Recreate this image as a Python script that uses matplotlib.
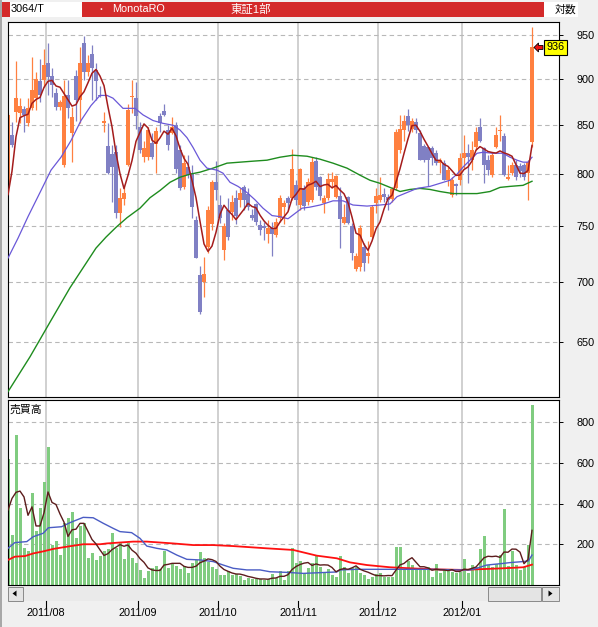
#!/usr/bin/env python
# coding: utf-8
# 3064/T MonotaRO - daily candles with moving averages and traded volume
# (2011/07/15 - 2012/01/30, log price scale)

import warnings
warnings.simplefilter("ignore")
import numpy as np
import pandas as pd
import matplotlib
matplotlib.use("Agg")
import matplotlib.pyplot as plt
import matplotlib.transforms as mtransforms
from matplotlib import font_manager
from matplotlib.patches import Rectangle, Polygon
from matplotlib.lines import Line2D
from matplotlib.ticker import NullLocator


# %% data (one entry per trading day)

opens = [786, 840, 864, 863, 867, 852, 868, 879, 898, 899,
         918, 904, 885, 869, 809, 883, 842, 904, 877, 941,
         908, 929, 910, 883, 852, 828, 820, 822, 762, 776,
         809, 880, 879, 848, 817, 817, 832, 830, 860, 865,
         845, 842, 850, 824, 787, 807, 801, 756, 706, 700,
         731, 752, 792, 770, 728, 765, 763, 777, 775, 787,
         781, 761, 771, 751, 750, 743, 748, 742, 758, 768,
         777, 777, 789, 770, 786, 773, 775, 813, 797, 772,
         777, 792, 778, 779, 753, 778, 750, 711, 713, 731,
         723, 740, 772, 775, 781, 778, 776, 786, 824, 845,
         860, 846, 853, 842, 828, 827, 826, 821, 811, 811,
         794, 780, 790, 794, 816, 821, 814, 827, 848, 826,
         814, 799, 827, 844, 839, 795, 801, 809, 808, 809,
         801, 833]

highs = [863, 853, 921, 879, 871, 879, 925, 908, 923, 934,
         941, 913, 890, 877, 899, 899, 869, 910, 937, 949,
         927, 939, 918, 892, 864, 852, 829, 829, 786, 788,
         873, 899, 897, 853, 834, 848, 842, 848, 863, 873,
         850, 859, 853, 829, 819, 819, 809, 760, 714, 722,
         769, 794, 813, 780, 753, 777, 780, 784, 786, 789,
         786, 766, 772, 756, 754, 756, 754, 758, 780, 775,
         779, 825, 794, 806, 789, 796, 817, 817, 798, 780,
         801, 802, 799, 787, 771, 779, 753, 726, 751, 735,
         736, 770, 786, 797, 786, 781, 787, 846, 861, 861,
         867, 858, 858, 845, 830, 827, 828, 824, 816, 814,
         807, 797, 791, 821, 840, 830, 834, 848, 858, 827,
         819, 822, 848, 861, 842, 809, 812, 814, 811, 811,
         814, 960]

lows = [782, 827, 853, 852, 843, 849, 866, 866, 875, 891,
        882, 880, 866, 866, 807, 858, 812, 855, 852, 899,
        904, 877, 877, 880, 843, 800, 773, 758, 749, 770,
        808, 863, 846, 821, 812, 814, 815, 801, 843, 860,
        824, 841, 801, 784, 785, 796, 758, 721, 673, 687,
        726, 747, 775, 753, 719, 737, 756, 752, 768, 765,
        765, 756, 751, 742, 737, 735, 723, 740, 754, 752,
        765, 775, 770, 765, 765, 770, 773, 784, 775, 762,
        775, 786, 777, 730, 752, 752, 719, 710, 710, 710,
        717, 739, 762, 773, 773, 765, 773, 784, 821, 834,
        844, 843, 842, 814, 812, 788, 809, 809, 801, 794,
        788, 778, 780, 789, 806, 791, 804, 824, 833, 791,
        799, 797, 826, 834, 798, 794, 799, 794, 797, 794,
        775, 827]

closes = [861, 829, 879, 871, 861, 868, 888, 900, 882, 916,
          902, 893, 869, 875, 881, 868, 859, 877, 918, 908,
          918, 912, 898, 881, 855, 801, 807, 762, 777, 782,
          866, 881, 860, 824, 826, 845, 817, 844, 852, 861,
          829, 848, 805, 786, 811, 799, 768, 721, 674, 707,
          765, 792, 784, 758, 750, 740, 773, 760, 782, 775,
          768, 758, 754, 747, 748, 748, 743, 754, 777, 772,
          772, 805, 775, 805, 769, 792, 812, 787, 779, 777,
          795, 795, 798, 757, 759, 753, 726, 723, 748, 717,
          726, 768, 779, 780, 778, 775, 785, 843, 846, 855,
          850, 854, 845, 814, 814, 814, 816, 811, 814, 794,
          804, 794, 788, 816, 821, 817, 824, 843, 834, 809,
          804, 819, 840, 845, 799, 797, 809, 797, 803, 797,
          812, 936]

volumes = [618, 245, 736, 379, 183, 167, 453, 267, 379, 505,
           679, 196, 216, 147, 304, 329, 358, 232, 290, 304,
           132, 159, 123, 144, 167, 177, 257, 183, 206, 128,
           206, 132, 108, 74, 36, 69, 83, 93, 78, 167,
           85, 108, 93, 79, 93, 59, 108, 123, 164, 132,
           113, 90, 79, 49, 49, 69, 49, 54, 46, 25,
           36, 29, 29, 29, 25, 29, 54, 36, 69, 25,
           69, 180, 110, 118, 59, 85, 108, 147, 90, 65,
           79, 49, 41, 144, 90, 61, 85, 90, 61, 49,
           29, 41, 52, 61, 41, 38, 38, 188, 188, 77,
           119, 98, 77, 77, 77, 90, 41, 103, 61, 74,
           74, 65, 57, 65, 128, 61, 98, 90, 177, 242,
           98, 90, 101, 147, 373, 93, 168, 98, 74, 90,
           196, 883]

# first 4 points of the 5-day averages (they use days before the window)
ma5_head = [780, 803, 838, 858]
vol_ma5_head = [368, 425, 455, 461]

# 25-day price average, read as (day index, price)
ma25_k = [0, 2.5, 5, 8.25, 10.75, 13.25, 15.75, 18.25, 20.75, 23,
          24.75, 26.25, 28.75, 31.75, 33.75, 36.25, 38.75, 41.25, 43, 44.75,
          46.25, 48, 49.75, 52.25, 53.75, 55.5, 57.5, 59.75, 61.75, 63.75,
          66, 68, 70, 71.75, 73.5, 75.5, 78, 81.25, 83.75, 86.25,
          89.75, 93, 95.5, 97.25, 99.75, 102.25, 105.5, 108, 110.5, 112.25,
          113.75, 115.5, 117.25, 118.75, 121.25, 123.75, 125.5, 127.25, 128.75, 130,
          131]
ma25_v = [721, 739, 759, 784, 804, 817, 834, 855, 871, 882,
          882, 879, 868, 868, 861, 855, 852, 850, 845, 837,
          827, 814, 806, 804, 801, 792, 788, 782, 775, 767,
          760, 759, 757, 762, 767, 768, 770, 774, 774, 770,
          769, 770, 771, 778, 782, 786, 788, 791, 794, 800,
          807, 814, 821, 822, 821, 821, 817, 814, 812, 812,
          817]

# 75-day price average
ma75_k = [0, 5.5, 10.5, 15.5, 22, 24.5, 27, 29.75, 33, 35.5,
          38, 40.5, 43, 45.5, 48, 51.25, 54.75, 58, 61.25, 64.75,
          68, 71.25, 74.75, 78, 81.25, 84.75, 88, 90.5, 93, 95.5,
          98, 100.5, 103, 105.5, 108, 111.25, 113.75, 117.25, 120.5, 123,
          125.5, 128.75, 131]
ma75_v = [611, 638, 666, 695, 730, 740, 749, 758, 767, 777,
          784, 792, 797, 800, 802, 806, 811, 812, 813, 814,
          817, 819, 818, 815, 811, 806, 799, 794, 791, 787,
          783, 785, 786, 785, 783, 781, 781, 781, 783, 787,
          788, 789, 793]

# 25-day volume average
vol_ma25_k = [0, 1.7, 4.7, 6.3, 8.8, 10.1, 13.4, 15.5, 18.8, 21.3,
              23.8, 26.3, 28, 30.9, 33, 34.7, 37.2, 39.7, 42.2, 44.7,
              48, 51.3, 53.8, 56.3, 59.7, 63, 65.5, 69.7, 73.8, 82.2,
              83, 87.2, 97.2, 106.3, 112.2, 115.5, 117.2, 119.7, 123.8, 125.5,
              128.8, 130.1, 131]
vol_ma25_v = [180, 208, 213, 237, 254, 281, 286, 306, 332, 330,
              303, 278, 262, 257, 229, 191, 180, 172, 147, 126,
              123, 115, 98, 82, 74, 74, 65, 62, 57, 64,
              74, 77, 77, 77, 74, 74, 82, 98, 106, 110,
              115, 118, 147]

# 75-day volume average
vol_ma75_k = [0, 1.7, 4.25, 6.3, 8.8, 11.3, 14.7, 18.8, 23, 24.7,
              31.3, 34.7, 41.3, 46.3, 51.3, 56.3, 64.7, 71.3, 77.2, 82.2,
              85.5, 89.7, 95.5, 100.5, 106.3, 113.8, 117.2, 123.8, 128.8, 130.5,
              131]
vol_ma75_v = [123, 139, 142, 155, 165, 177, 188, 200, 200, 204,
              213, 213, 204, 196, 196, 191, 180, 172, 144, 131,
              111, 98, 87, 82, 77, 74, 77, 82, 87, 97,
              100]

month_start = [10, 33, 53, 73, 93, 114]          # first trading day of month
month_labels = ['2011/08', '2011/09', '2011/10', '2011/11', '2011/12', '2012/01']
price_ticks = [650, 700, 750, 800, 850, 900, 950]
volume_ticks = [200, 400, 600, 800]


# %% look

UP = '#ff8040'
DOWN = '#8080c4'
MA5_C = '#a41c1c'
MA25_C = '#6a58d8'
MA75_C = '#1e8c1e'
VOL_C = '#80cc80'
VMA5_C = '#5c1c1c'
VMA25_C = '#4a5cc4'
VMA75_C = '#ff1010'
GRID_C = '#b8b8b8'
VGRID_C = '#c4c4c4'
BG = '#f0f0f0'
HEAD_RED = '#d42a2a'

installed = {f.name for f in font_manager.fontManager.ttflist}
NUM = next(f for f in ['Liberation Sans Narrow', 'Liberation Sans', 'DejaVu Sans']
           if f in installed)
NUM_SIZE = 9.5 if NUM == 'Liberation Sans Narrow' else 7.8
plt.rcParams['font.family'] = [NUM, 'Noto Sans CJK JP', 'DejaVu Sans']

W, H = 598, 627


def fx(x):
    return x / W


def fy(y):
    return 1 - y / H


fig = plt.figure(figsize=(W / 100, H / 100), dpi=100)
fig.patch.set_facecolor(BG)


def rect(x0, y0, x1, y1, **kw):
    fig.add_artist(Rectangle((fx(x0), fy(y1)), (x1 - x0) / W, (y1 - y0) / H,
                             transform=fig.transFigure, **kw))


def poly(pts, **kw):
    fig.add_artist(Polygon([(fx(a), fy(b)) for a, b in pts], closed=True,
                           transform=fig.transFigure, **kw))


# window edge
rect(0, 0, 2, H, fc='#a8a8a8', ec='none')

# header bar
rect(2, 2, 9.5, 17, fc=HEAD_RED, ec='none')
rect(9.5, 2, 82, 17, fc='white', ec='none')
rect(82, 2, 543.5, 17, fc=HEAD_RED, ec='none')
rect(543.5, 2, 578, 17, fc='white', ec='none')
fig.text(fx(11), fy(9.5), '3064/T', ha='left', va='center', fontsize=NUM_SIZE, color='black')
fig.text(fx(96), fy(9.5), '・', ha='left', va='center', fontsize=6.5, color='white')
fig.text(fx(112), fy(9.5), 'MonotaRO', ha='left', va='center', fontsize=NUM_SIZE, color='white')
fig.text(fx(231), fy(9.5), '東証1部', ha='left', va='center', fontsize=8.2, color='white')
fig.text(fx(555), fy(9.5), '対数', ha='left', va='center', fontsize=7.8, color='black')

n = len(closes)
k = np.arange(n)
o = np.array(opens, float)
h = np.array(highs, float)
lo = np.array(lows, float)
c = np.array(closes, float)
v = np.array(volumes, float)

ma5 = pd.Series(c).rolling(5).mean().to_numpy()
ma5[:4] = ma5_head
vma5 = pd.Series(v).rolling(5).mean().to_numpy()
vma5[:4] = vol_ma5_head

XLIM = (-0.125, 137.625)

# %% price panel
ax_p = fig.add_axes([fx(7.5), fy(397), 551 / W, (397 - 22) / H])
ax_p.set_facecolor('white')
ax_p.set_yscale('log')
ax_p.set_ylim(607, 966)
ax_p.set_xlim(*XLIM)
ax_p.set_axisbelow(True)

for m in month_start:
    ax_p.axvline(m - 0.5, color=VGRID_C, lw=1.1, zorder=0.5)
for t in price_ticks:
    ax_p.axhline(t, color=GRID_C, lw=0.8, ls=(0, (4, 3)), zorder=0.6)

up = c >= o
dn = ~up
ax_p.vlines(k[up], lo[up], h[up], color=UP, lw=0.9, zorder=2)
ax_p.vlines(k[dn], lo[dn], h[dn], color=DOWN, lw=0.9, zorder=2)
body = np.maximum(np.abs(c - o), 1.0)
ax_p.bar(k[up], body[up], bottom=o[up], width=0.78, color=UP, lw=0, zorder=2.1)
ax_p.bar(k[dn], body[dn], bottom=c[dn], width=0.78, color=DOWN, lw=0, zorder=2.1)

ax_p.plot(ma75_k, ma75_v, color=MA75_C, lw=1.0, zorder=3)
ax_p.plot(ma25_k, ma25_v, color=MA25_C, lw=0.9, zorder=3)
ax_p.plot(k, ma5, color=MA5_C, lw=1.1, zorder=3.1)

ax_p.yaxis.tick_right()
ax_p.set_yticks(price_ticks)
ax_p.set_yticklabels([str(t) for t in price_ticks])
ax_p.yaxis.set_minor_locator(NullLocator())
ax_p.set_xticks([])
ax_p.tick_params(axis='y', direction='out', length=3, width=0.7, pad=10,
                 labelsize=NUM_SIZE, colors='black')
for s in ax_p.spines.values():
    s.set_color('black')
    s.set_linewidth(0.8)

# %% volume panel
ax_v = fig.add_axes([fx(7.5), fy(585), 551 / W, (585 - 400) / H])
ax_v.set_facecolor('white')
ax_v.set_ylim(0, 908)
ax_v.set_xlim(*XLIM)
for m in month_start:
    ax_v.axvline(m - 0.5, color=VGRID_C, lw=1.1, zorder=0.5)
for t in volume_ticks:
    ax_v.axhline(t, color=GRID_C, lw=0.8, ls=(0, (4, 3)), zorder=0.6)

ax_v.bar(k, v, width=0.75, color=VOL_C, lw=0, zorder=2)
ax_v.plot(vol_ma75_k, vol_ma75_v, color=VMA75_C, lw=1.3, zorder=3)
ax_v.plot(vol_ma25_k, vol_ma25_v, color=VMA25_C, lw=1.0, zorder=3)
ax_v.plot(k, vma5, color=VMA5_C, lw=1.0, zorder=3.1)

ax_v.yaxis.tick_right()
ax_v.set_yticks(volume_ticks)
ax_v.set_yticklabels([str(t) for t in volume_ticks])
ax_v.set_xticks([])
ax_v.tick_params(axis='y', direction='out', length=3, width=0.7, pad=10,
                 labelsize=NUM_SIZE, colors='black')
for s in ax_v.spines.values():
    s.set_color('black')
    s.set_linewidth(0.8)
ax_v.text(0.004, 0.975, '売買高', transform=ax_v.transAxes, ha='left', va='top',
          fontsize=7.8, color='black')

# %% scroll bar under the chart
rect(7.5, 586.5, 558.5, 600.5, fc='#eaeaea', ec='none')
rect(7.5, 586.5, 22.5, 600.5, fc='#e4e4e4', ec='#8a8a8a', lw=0.7)
poly([(12.5, 593.5), (16.5, 590.5), (16.5, 596.5)], fc='black', ec='none')
rect(488, 586.5, 541, 600.5, fc='#e4e4e4', ec='#8a8a8a', lw=0.7)
rect(542, 586.5, 558.5, 600.5, fc='#e4e4e4', ec='#8a8a8a', lw=0.7)
poly([(552.5, 593.5), (548.5, 590.5), (548.5, 596.5)], fc='black', ec='none')

# date ticks and labels
trans = mtransforms.blended_transform_factory(ax_v.transData, fig.transFigure)
for m, lab in zip(month_start, month_labels):
    xm = m - 0.5
    fig.add_artist(Line2D([xm, xm], [fy(601), fy(607)], transform=trans,
                          color='black', lw=0.8))
    fig.text(xm, fy(613.5), lab, transform=trans, ha='center', va='center',
             fontsize=NUM_SIZE, color='black')

# %% last price tag
last = closes[-1]
ytag = H - ax_p.transData.transform((0, last))[1]
poly([(534, ytag), (538.5, ytag - 4.5), (538.5, ytag - 2), (543, ytag - 2),
      (543, ytag + 2), (538.5, ytag + 2), (538.5, ytag + 4.5)],
     fc='#ee1111', ec='black', lw=0.6)
rect(544, ytag - 7.5, 567, ytag + 7.5, fc='#ffff00', ec='black', lw=0.8)
fig.text(fx(555.5), fy(ytag), str(last), ha='center', va='center',
         fontsize=NUM_SIZE, color='black')

fig.savefig('out.png', dpi=100, facecolor=fig.get_facecolor())
